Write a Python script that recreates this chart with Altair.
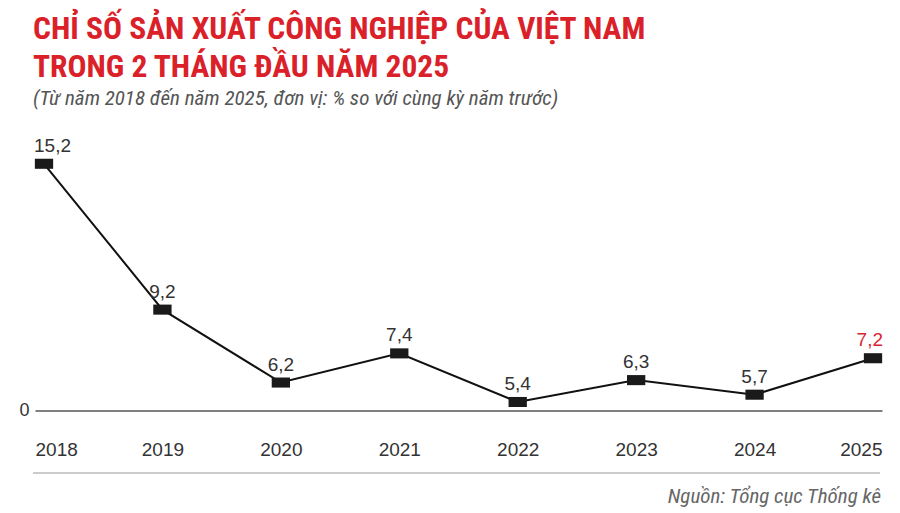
import altair as alt
import pandas as pd

years = ["2018", "2019", "2020", "2021", "2022", "2023", "2024", "2025"]
values = [15.2, 9.2, 6.2, 7.4, 5.4, 6.3, 5.7, 7.2]
value_labels = ["15,2", "9,2", "6,2", "7,4", "5,4", "6,3", "5,7", "7,2"]
highlight = ["n", "n", "n", "n", "n", "n", "n", "h"]

title_lines = ["CHỈ SỐ SẢN XUẤT CÔNG NGHIỆP CỦA VIỆT NAM", "TRONG 2 THÁNG ĐẦU NĂM 2025"]
subtitle = "(Từ năm 2018 đến năm 2025, đơn vị: % so với cùng kỳ năm trước)"
source = "Nguồn: Tổng cục Thống kê"

df = pd.DataFrame({"year": years, "value": values, "label": value_labels, "hl": highlight})

W, H = 847, 290
Y0, Y1 = 5.05, 16.98
NUM_FONT = "Liberation Sans"
COND = "'Roboto Condensed', 'Liberation Sans Narrow', Roboto, sans-serif"
first, last = years[0], years[-1]

x_enc = alt.X(
    "year:O",
    scale=alt.Scale(type="point", padding=0.076),
    axis=alt.Axis(
        title=None, domain=False, ticks=False, grid=False, labelAngle=0,
        labelPadding=30, labelFontSize=19, labelFont=NUM_FONT, labelColor="#333",
        labelAlign=alt.expr(
            f"datum.value == '{first}' ? 'left' : datum.value == '{last}' ? 'right' : 'center'"
        ),
        labelOffset=alt.expr(
            f"datum.value == '{first}' ? -9 : datum.value == '{last}' ? 9 : 0"
        ),
    ),
)
y_enc = alt.Y(
    "value:Q",
    scale=alt.Scale(domain=[Y0, Y1], nice=False, zero=False),
    axis=alt.Axis(
        title=None, values=[Y0], labelExpr="'0'", domain=False, ticks=False,
        grid=True, gridColor="#555", gridWidth=1.5, labelFontSize=18,
        labelFont=NUM_FONT, labelColor="#333", labelPadding=6,
    ),
)

base = alt.Chart(df).encode(x=x_enc, y=y_enc)

line = base.mark_line(color="#111", strokeWidth=2)
pts = base.mark_point(
    shape="M-1,-0.55L1,-0.55L1,0.55L-1,0.55Z", size=335, filled=True,
    color="#1a1a1a", opacity=1,
)

txt_color = alt.Color("hl:N", scale=alt.Scale(domain=["n", "h"], range=["#333333", "#d7262e"]), legend=None)
txt_common = dict(dy=-12, baseline="alphabetic", fontSize=19, font=NUM_FONT)
txt_mid = base.transform_filter(
    (alt.datum.year != first) & (alt.datum.year != last)
).mark_text(**txt_common).encode(text="label:N", color=txt_color)
txt_first = base.transform_filter(alt.datum.year == first).mark_text(
    align="left", dx=-10, **txt_common
).encode(text="label:N", color=txt_color)
txt_last = base.transform_filter(alt.datum.year == last).mark_text(
    align="right", dx=10, **txt_common
).encode(text="label:N", color=txt_color)

deco = pd.DataFrame({"a": [0]})
bottom_rule = alt.Chart(deco).mark_rule(color="#cccccc", strokeWidth=2).encode(
    x=alt.value(-2), x2=alt.value(845), y=alt.value(352.5)
)
src = alt.Chart(deco).mark_text(
    align="right", baseline="alphabetic", fontStyle="italic", fontSize=21,
    font=COND, color="#666",
).encode(x=alt.value(846), y=alt.value(382.5), text=alt.value(source))

chart = alt.layer(line, pts, txt_mid, txt_first, txt_last, bottom_rule, src).properties(
    width=W, height=H,
    autosize=alt.AutoSizeParams(type="none"),
    padding={"left": 35, "top": 120.5, "right": 18, "bottom": 102.5},
    title=alt.TitleParams(
        text=title_lines, subtitle=subtitle, anchor="start", frame="group",
        font=COND, fontSize=31.5, fontWeight="bold", color="#da2129", lineHeight=38,
        subtitleFont=COND, subtitleFontStyle="italic", subtitleFontSize=21,
        subtitleColor="#555", subtitlePadding=4,
        offset=12, dx=-2,
    ),
).configure(background="white", view=alt.ViewConfig(stroke="transparent"))

chart.save("out.html", embed_options={"renderer": "svg", "actions": False})
